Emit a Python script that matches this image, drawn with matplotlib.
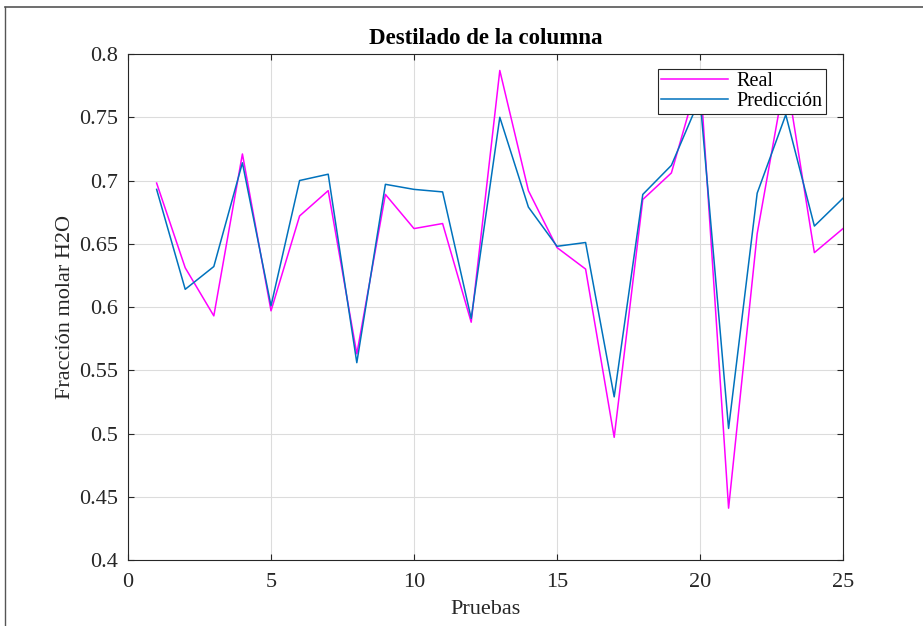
import matplotlib
matplotlib.use("Agg")
import matplotlib.pyplot as plt
from matplotlib.lines import Line2D

# Test runs and measured / predicted water mole fraction in the distillate
pruebas = list(range(1, 26))
real = [0.698, 0.631, 0.593, 0.721, 0.597, 0.672, 0.692, 0.563, 0.689, 0.662,
        0.666, 0.588, 0.787, 0.692, 0.647, 0.630, 0.497, 0.685, 0.706, 0.785,
        0.441, 0.658, 0.785, 0.643, 0.662]
prediccion = [0.693, 0.614, 0.632, 0.714, 0.601, 0.700, 0.705, 0.556, 0.697, 0.693,
              0.691, 0.591, 0.750, 0.679, 0.648, 0.651, 0.529, 0.689, 0.712, 0.765,
              0.504, 0.690, 0.752, 0.664, 0.686]
xticks = [0, 5, 10, 15, 20, 25]
yticks = [0.4, 0.45, 0.5, 0.55, 0.6, 0.65, 0.7, 0.75, 0.8]
yticklabels = ["0.4", "0.45", "0.5", "0.55", "0.6", "0.65", "0.7", "0.75", "0.8"]

plt.rcParams["font.family"] = ["Liberation Serif", "DejaVu Serif"]

fig = plt.figure(figsize=(9.23, 6.26), dpi=100)
ax = fig.add_axes([0.1387, 0.1054, 0.9133 - 0.1387, 0.9137 - 0.1054])

ax.plot(pruebas, real, color="#FF00FF", lw=1.1, label="Real")
ax.plot(pruebas, prediccion, color="#0072BD", lw=1.1, label="Predicción")

ax.set_xlim(0, 25)
ax.set_ylim(0.4, 0.8)
ax.set_xticks(xticks)
ax.set_yticks(yticks)
ax.set_yticklabels(yticklabels)
ax.grid(True, color="#dcdcdc", lw=0.8)
ax.set_axisbelow(True)
ax.tick_params(direction="in", length=4, width=0.8, color="#262626",
               top=True, right=True, labelsize=16, labelcolor="#262626")
ax.tick_params(axis="x", pad=9)
ax.tick_params(axis="y", pad=7)
for s in ax.spines.values():
    s.set_color("#262626")
    s.set_linewidth(0.8)

ax.set_title("Destilado de la columna", fontsize=16.5, fontweight="bold", pad=7)
ax.set_xlabel("Pruebas", fontsize=16, color="#262626", labelpad=6)
ax.set_ylabel("Fracción molar H2O", fontsize=16, color="#262626", labelpad=3)

leg = ax.legend(loc="upper right", bbox_to_anchor=(0.976, 0.970), borderaxespad=0,
                fancybox=False, framealpha=1, edgecolor="#262626", fontsize=14.5,
                handlelength=3.3, handletextpad=0.45, borderpad=0.15, labelspacing=0.05)
leg.get_frame().set_linewidth(0.8)

# page frame lines along the top and left edges
fig.add_artist(Line2D([5 / 923, 1], [1 - 7 / 626, 1 - 7 / 626], color="#555555", lw=1.2))
fig.add_artist(Line2D([5 / 923, 5 / 923], [0, 1 - 7 / 626], color="#555555", lw=1.0))

fig.savefig("out.png", dpi=100)
